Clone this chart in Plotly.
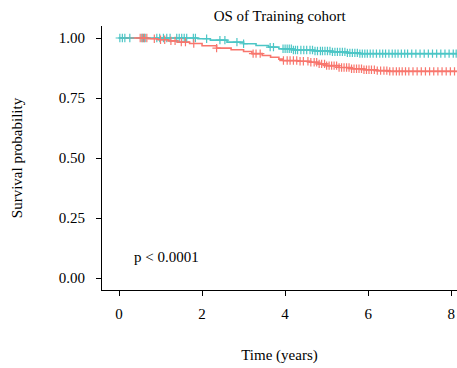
import numpy as np
import plotly.graph_objects as go

# Kaplan-Meier step data: event times (years) and survival after each event
low_times = [0.0, 1.90, 2.20, 2.60, 3.00, 3.30, 3.60, 3.85, 4.20, 4.70, 5.10, 5.50,
             5.80, 8.15]
low_surv = [1.000, 0.997, 0.991, 0.983, 0.976, 0.969, 0.962, 0.955, 0.950, 0.946,
            0.942, 0.938, 0.935, 0.935]

high_times = [0.0, 0.70, 0.95, 1.20, 1.40, 1.70, 2.00, 2.35, 2.70, 3.00, 3.20, 3.45,
              3.65, 3.85, 3.95, 4.30, 4.60, 4.80, 5.00, 5.30, 5.60, 5.90, 6.20, 6.50,
              8.15]
high_surv = [1.000, 0.997, 0.993, 0.988, 0.983, 0.977, 0.968, 0.958, 0.951, 0.944,
             0.935, 0.927, 0.920, 0.912, 0.906, 0.903, 0.899, 0.892, 0.885, 0.877,
             0.872, 0.868, 0.864, 0.861, 0.861]

# Censoring times
low_censor = [0.02, 0.08, 0.14, 0.26, 0.55, 0.59, 0.63, 0.91, 0.98, 1.07, 1.15, 1.23,
              1.39, 1.45, 1.51, 1.57, 1.63, 1.79, 1.84, 2.11, 2.43, 2.55, 2.84, 3.00,
              3.64, 3.72, 3.95, 4.00, 4.05, 4.10, 4.15, 4.20, 4.25, 4.30, 4.38, 4.45,
              4.52, 4.60, 4.66, 4.72, 4.78, 4.85, 4.90, 4.96, 5.02, 5.08, 5.14, 5.20,
              5.26, 5.32, 5.38, 5.44, 5.50, 5.56, 5.62, 5.68, 5.74, 5.80, 5.86, 5.92,
              5.98, 6.05, 6.12, 6.20, 6.28, 6.35, 6.42, 6.50, 6.58, 6.65, 6.72, 6.80,
              6.88, 6.95, 7.05, 7.15, 7.25, 7.35, 7.45, 7.55, 7.65, 7.75, 7.85, 7.95,
              8.05, 8.12]
high_censor = [0.51, 0.56, 0.61, 0.67, 0.85, 1.00, 1.10, 1.25, 1.35, 1.50, 1.60, 1.80,
               2.35, 3.23, 3.30, 3.40, 3.96, 4.05, 4.12, 4.20, 4.28, 4.36, 4.44, 4.55,
               4.62, 4.70, 4.76, 4.82, 4.88, 4.95, 5.00, 5.06, 5.12, 5.18, 5.24, 5.30,
               5.36, 5.42, 5.48, 5.54, 5.60, 5.66, 5.72, 5.78, 5.84, 5.90, 5.96, 6.02,
               6.08, 6.15, 6.22, 6.30, 6.38, 6.45, 6.52, 6.60, 6.68, 6.75, 6.82, 6.90,
               6.98, 7.08, 7.18, 7.28, 7.38, 7.48, 7.58, 7.68, 7.78, 7.88, 7.98, 8.08]

x_ticks = [0, 2, 4, 6, 8]
y_ticks = [0.0, 0.25, 0.5, 0.75, 1.0]
y_tick_text = ["0.00", "0.25", "0.50", "0.75", "1.00"]

TEAL = "#4CC6C6"
RED = "#F8766D"
FONT = "Liberation Serif"


def surv_at(times, surv, t):
    idx = np.searchsorted(np.array(times), np.array(t), side="right") - 1
    return np.array(surv)[idx]


groups = [(low_times, low_surv, low_censor, TEAL),
          (high_times, high_surv, high_censor, RED)]

fig = go.Figure()
# survival step curves
for times, surv, cens, col in groups:
    fig.add_trace(go.Scatter(x=times, y=surv, mode="lines", line=dict(color=col, width=1.6, shape="hv"),
                             showlegend=False, hoverinfo="skip"))
# censoring marks
for times, surv, cens, col in groups:
    fig.add_trace(go.Scatter(x=cens, y=surv_at(times, surv, cens), mode="markers",
                             marker=dict(symbol="cross-thin", size=6, line=dict(color=col, width=1.2)),
                             showlegend=False))

fig.add_annotation(x=0.31, y=0.088, text="p < 0.0001", showarrow=False, xanchor="left",
                   font=dict(family=FONT, size=15, color="black"))

axis_common = dict(showline=True, linecolor="black", linewidth=1, ticks="outside", ticklen=5,
                   tickcolor="black", showgrid=False, zeroline=False,
                   tickfont=dict(family=FONT, size=15, color="black"))

fig.update_layout(
    width=457, height=368,
    margin=dict(l=102, r=0, t=26, b=78),
    plot_bgcolor="white", paper_bgcolor="white",
    title=dict(text="OS of Training cohort", x=0.612, xanchor="center", y=0.958, yanchor="middle",
               font=dict(family=FONT, size=15, color="black")),
    xaxis=dict(range=[-0.41, 8.14], tickvals=x_ticks, ticktext=[str(v) for v in x_ticks],
               ticklabelstandoff=5,
               title=dict(text="Time (years)", font=dict(family=FONT, size=15, color="black"), standoff=28),
               **axis_common),
    yaxis=dict(range=[-0.05, 1.05], tickvals=y_ticks, ticktext=y_tick_text,
               ticklabelstandoff=8,
               title=dict(text="Survival probability", font=dict(family=FONT, size=15, color="black"), standoff=32),
               **axis_common),
)

fig.write_html("out.html")
